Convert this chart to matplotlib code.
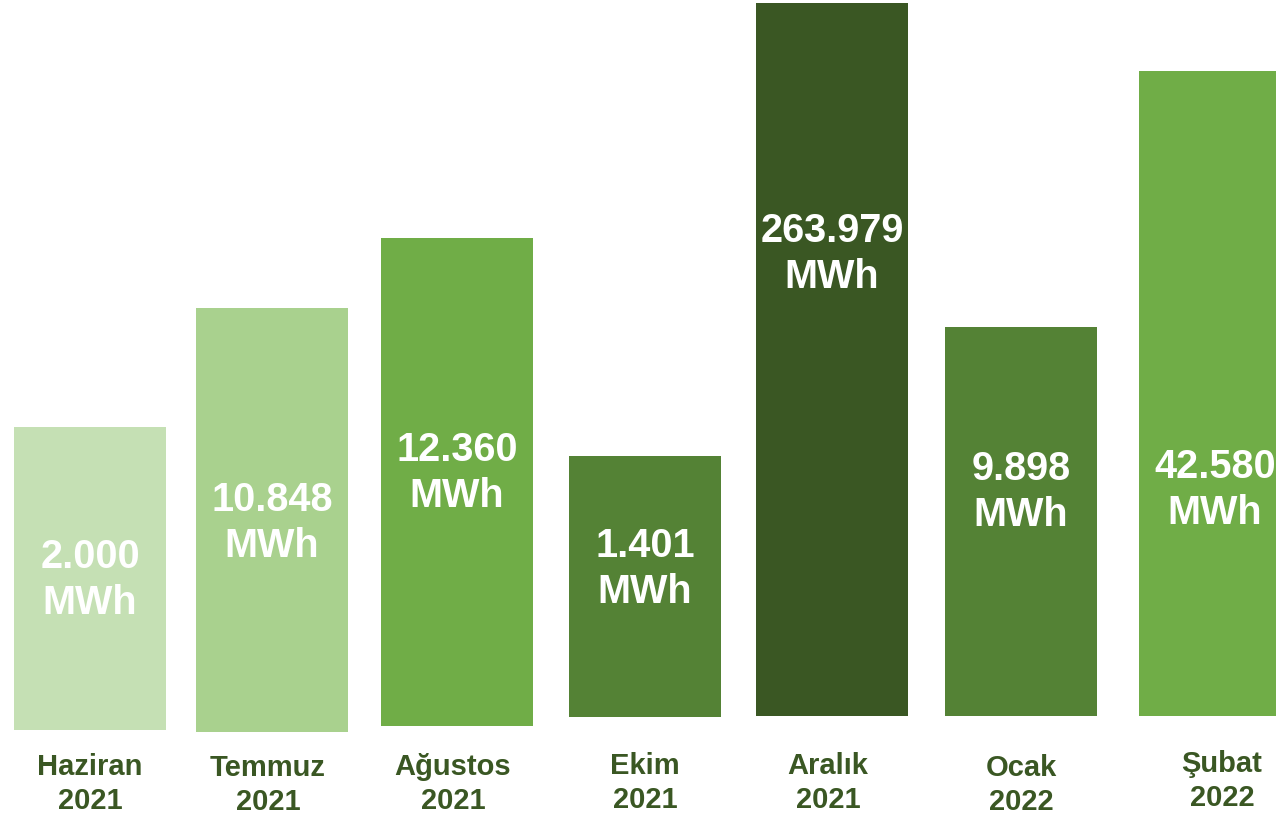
import matplotlib.pyplot as plt

# ------------------------------------------------
# Data
# ------------------------------------------------

months = ["Haziran", "Temmuz", "Ağustos", "Ekim", "Aralık", "Ocak", "Şubat"]
years = ["2021", "2021", "2021", "2021", "2021", "2022", "2022"]
values = ["2.000", "10.848", "12.360", "1.401", "263.979", "9.898", "42.580"]

# the bars are drawn as an infographic: their heights are not to scale
bar_heights = [303, 424, 488, 261, 713, 389, 645]
bar_bottoms = [88, 86, 92, 101, 102, 102, 102]
bar_left = [14, 196, 381, 569, 756, 945, 1139]
bar_colors = ["#c5e0b4", "#a9d18e", "#70ad47", "#548235",
              "#3a5723", "#548235", "#70ad47"]

value_label_y = [238, 295, 345, 249, 564, 326, 328]
month_label_x = [90, 268, 453, 645, 828, 1021, 1222]
month_label_y = [34, 33, 34, 35, 35, 33, 37]

# ------------------------------------------------
# Plot
# ------------------------------------------------

plt.rcParams['font.family'] = ['Liberation Sans', 'DejaVu Sans']

fig = plt.figure(figsize=(12.76, 8.18), dpi=100)
ax = fig.add_axes([0, 0, 1, 1])
ax.set_xlim(0, 1276)
ax.set_ylim(0, 818)
ax.axis("off")

bar_width = 152
centers = [left + bar_width / 2 for left in bar_left]

ax.bar(centers, bar_heights, width=bar_width, bottom=bar_bottoms,
       color=bar_colors, linewidth=0)

for cx, val, y in zip(centers, values, value_label_y):
    ax.text(cx, y, val + "\nMWh", ha="center", va="center",
            fontsize=28.5, fontweight="bold", color="white", linespacing=1.27)

for x, m, yr, y in zip(month_label_x, months, years, month_label_y):
    ax.text(x, y, m + "\n" + yr, ha="center", va="center",
            fontsize=21, fontweight="bold", color="#3a5723", linespacing=1.23)

plt.savefig("out.png", dpi=100)
